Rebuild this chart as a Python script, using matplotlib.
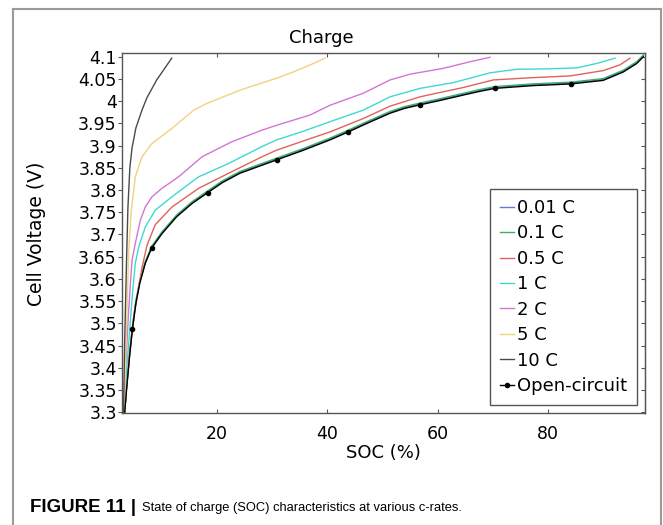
import numpy as np
import matplotlib
matplotlib.use("Agg")
import matplotlib.pyplot as plt
from matplotlib.lines import Line2D
from matplotlib.ticker import FuncFormatter

# charge curves: SOC (%) vs cell voltage (V)
soc_ocv = [3.27, 3.6, 4.15, 4.68, 5.3, 6.0, 7.0, 8.13, 10.03, 12.69, 15.5, 18.28, 21.0,
           24.17, 28.16, 30.82, 35.5, 40.48, 43.8, 47.5, 51.36, 54.0, 56.8, 60.5, 64.65, 67.5,
           70.34, 77.0, 84.1, 90.0, 93.65, 96.07, 97.27]
v_ocv = [3.300, 3.350, 3.425, 3.488, 3.545, 3.590, 3.635, 3.669, 3.702, 3.740, 3.770,
         3.794, 3.817, 3.838, 3.856, 3.868, 3.889, 3.913, 3.931, 3.952, 3.973, 3.984, 3.992,
         4.002, 4.014, 4.022, 4.029, 4.035, 4.039, 4.047, 4.066, 4.085, 4.100]
v_001c = [3.300, 3.353, 3.429, 3.491, 3.548, 3.592, 3.637, 3.671, 3.704, 3.742, 3.772,
          3.796, 3.819, 3.840, 3.858, 3.870, 3.891, 3.915, 3.933, 3.954, 3.975, 3.986, 3.994,
          4.004, 4.016, 4.024, 4.031, 4.037, 4.041, 4.049, 4.068, 4.087, 4.102]
v_01c = [3.300, 3.357, 3.433, 3.495, 3.552, 3.595, 3.639, 3.673, 3.706, 3.744, 3.774,
         3.798, 3.821, 3.842, 3.860, 3.872, 3.893, 3.917, 3.935, 3.956, 3.977, 3.988, 3.996,
         4.006, 4.018, 4.026, 4.033, 4.039, 4.043, 4.051, 4.070, 4.089, 4.104]
ocv_marks = [3, 7, 11, 15, 18, 22, 26, 28]

soc_05c = [3.25, 3.7, 4.3, 5.0, 5.7, 6.4, 7.3, 8.8, 11.84, 16.68, 22.12, 28.16, 30.82, 35.5,
           40.48, 46.5, 51.36, 56.8, 60.5, 64.65, 70.08, 77.0, 83.98, 90.0, 93.05, 94.86]
v_05c = [3.300, 3.370, 3.450, 3.520, 3.575, 3.625, 3.675, 3.722, 3.762, 3.804, 3.838, 3.875,
         3.890, 3.910, 3.931, 3.961, 3.989, 4.010, 4.020, 4.031, 4.048, 4.053, 4.057, 4.069,
         4.082, 4.097]

soc_1c = [3.2, 3.6, 4.2, 4.7, 5.19, 5.81, 7.0, 8.82, 11.84, 16.68, 22.12, 28.16, 30.82, 35.5,
          40.48, 46.5, 51.36, 56.8, 62.84, 69.48, 74.32, 80.0, 85.2, 88.8, 92.14]
v_1c = [3.300, 3.390, 3.490, 3.570, 3.635, 3.672, 3.717, 3.755, 3.785, 3.830, 3.860, 3.898,
        3.913, 3.932, 3.954, 3.980, 4.010, 4.029, 4.042, 4.064, 4.072, 4.073, 4.075, 4.085, 4.097]

soc_2c = [3.15, 3.4, 3.9, 4.3, 4.6, 5.19, 6.1, 7.0, 8.22, 10.03, 13.05, 17.28, 22.72, 28.16,
          30.82, 36.86, 40.48, 46.5, 51.36, 54.99, 61.0, 65.86, 69.48]
v_2c = [3.300, 3.390, 3.510, 3.590, 3.642, 3.680, 3.732, 3.762, 3.785, 3.804, 3.830, 3.875,
        3.909, 3.935, 3.946, 3.969, 3.991, 4.018, 4.048, 4.061, 4.074, 4.089, 4.099]

soc_5c = [3.2, 3.5, 3.8, 4.0, 4.47, 5.19, 6.41, 8.22, 11.84, 15.78, 18.13, 24.17, 30.82, 33.83,
          37.46, 39.58]
v_5c = [3.300, 3.450, 3.580, 3.665, 3.755, 3.830, 3.875, 3.905, 3.939, 3.980, 3.995, 4.025,
        4.052, 4.066, 4.085, 4.097]

soc_10c = [3.05, 3.25, 3.45, 3.6, 3.85, 4.2, 4.6, 5.3, 6.4, 7.3, 9.07, 11.79]
v_10c = [3.300, 3.450, 3.560, 3.640, 3.760, 3.850, 3.895, 3.940, 3.980, 4.008, 4.048, 4.097]

x_ticks = [20, 40, 60, 80]
y_ticks = np.round(np.arange(3.3, 4.101, 0.05), 2)

fig = plt.figure(figsize=(6.63, 5.25), dpi=100)
ax = fig.add_axes([0.1836, 0.2124, 0.7893, 0.6861])

ax.plot(soc_ocv, v_001c, color='#5b7fd6', lw=1.0, label='0.01 C')
ax.plot(soc_ocv, v_01c, color='#3dae6a', lw=1.0, label='0.1 C')
ax.plot(soc_05c, v_05c, color='#e0625c', lw=1.0, label='0.5 C')
ax.plot(soc_1c, v_1c, color='#3fd9d2', lw=1.0, label='1 C')
ax.plot(soc_2c, v_2c, color='#d275d6', lw=1.0, label='2 C')
ax.plot(soc_5c, v_5c, color='#f3d27f', lw=1.0, label='5 C')
ax.plot(soc_10c, v_10c, color='#4a4a4a', lw=1.0, label='10 C')
ax.plot(soc_ocv, v_ocv, color='black', lw=1.0, marker='o', ms=3, markevery=ocv_marks,
        label='Open-circuit')

ax.set_xlim(2.73, 97.58)
ax.set_ylim(3.297, 4.108)
ax.set_xticks(x_ticks)
ax.set_yticks(y_ticks)
ax.yaxis.set_major_formatter(FuncFormatter(lambda v, p: f'{round(v, 2):g}'))

for s in ax.spines.values():
    s.set_color('#555555')
    s.set_linewidth(1.0)
ax.tick_params(axis='x', direction='in', top=True, length=3, pad=8, labelsize=12.5,
               color='#555555')
ax.tick_params(axis='y', direction='out', right=False, length=2.6, pad=1, labelsize=12.5,
               color='#555555')
sec = ax.secondary_yaxis('right')
sec.set_yticks(y_ticks)
sec.tick_params(direction='in', length=3, labelright=False, color='#555555')
sec.spines['right'].set_color('#555555')

ax.set_xlabel('SOC (%)', fontsize=13)
ax.set_ylabel('Cell Voltage (V)', fontsize=13.5)
ax.xaxis.set_label_coords(0.5, -0.085)
ax.yaxis.set_label_coords(-0.145, 0.5)
fig.text(321 / 663, 1 - 38 / 525, 'Charge', fontsize=13, ha='center', va='center')

leg = ax.legend(loc='lower right', bbox_to_anchor=(0.985, 0.024), borderaxespad=0,
                fontsize=13, handlelength=0.75, handletextpad=0.2, labelspacing=0.41,
                fancybox=False, framealpha=1, borderpad=0.55)
leg.get_frame().set_edgecolor('#555555')
leg.get_frame().set_linewidth(1.0)

# outer figure frame (open at the bottom)
fc = '#9a9a9a'
x0, x1, y0 = 13 / 663, 661 / 663, 1 - 9 / 525
fig.add_artist(Line2D([x0, x1], [y0, y0], color=fc, lw=1.5, transform=fig.transFigure))
fig.add_artist(Line2D([x0, x0], [0, y0], color=fc, lw=1.5, transform=fig.transFigure))
fig.add_artist(Line2D([x1, x1], [0, y0], color=fc, lw=1.5, transform=fig.transFigure))

fig.text(30 / 663, 1 - 508 / 525, 'FIGURE 11 |', fontsize=13.5, fontweight='bold',
         family='Liberation Sans', va='center')
fig.text(142 / 663, 1 - 508 / 525, 'State of charge (SOC) characteristics at various c-rates.',
         fontsize=9.3, family='Liberation Sans', va='center')

fig.savefig('out.png', dpi=100)
